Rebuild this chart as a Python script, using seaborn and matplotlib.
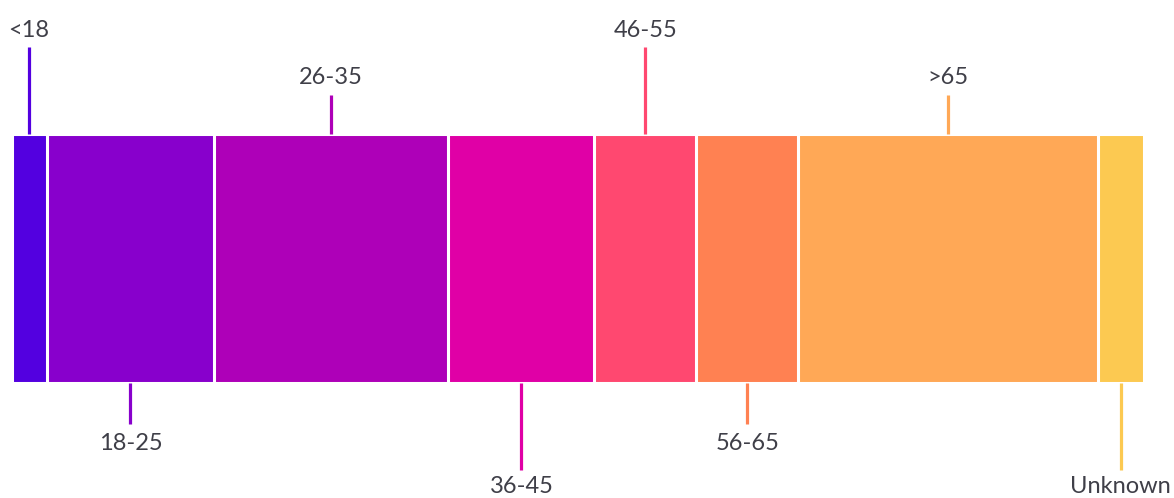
import matplotlib
matplotlib.use("Agg")
import matplotlib.pyplot as plt
import seaborn as sns
import pandas as pd
import numpy as np

# ---- data ----
categories = ["<18", "18-25", "26-35", "36-45", "46-55", "56-65", ">65", "Unknown"]
shares = [3.1, 14.8, 20.7, 12.9, 9.0, 9.0, 26.5, 4.0]
colors = ["#5300E0", "#8800CC", "#AE00B8", "#E000A6",
          "#FF4870", "#FF8152", "#FFA856", "#FCC951"]

sns.set_theme(style="white")
plt.rcParams["font.family"] = ["Lato", "DejaVu Sans"]

W, H = 1174, 498
fig = plt.figure(figsize=(W / 100, H / 100), dpi=100)
left_px, right_px = 11.5, 1143.5
ax = fig.add_axes([left_px / W, 0, (right_px - left_px) / W, 1])

cum = np.cumsum(shares)
df = pd.DataFrame({"group": ["Age"] * len(categories),
                   "category": categories,
                   "cum": cum})

palette = dict(zip(categories, colors))
sns.barplot(data=df, x="cum", y="group", hue="category",
            hue_order=categories[::-1], palette=palette, dodge=False,
            width=1.0, edgecolor="white", linewidth=2.2, legend=False,
            saturation=1, ax=ax)

bar_top, bar_bot = 134.0, 383.0
scale = bar_bot - bar_top


def py(p):
    return -0.5 + (p - bar_top) / scale


ax.set_xlim(0, cum[-1])
ax.set_ylim(py(H), py(0))
ax.axis("off")

text_color = "#3f3f48"
for i, (cat, c) in enumerate(zip(categories, colors)):
    xc = cum[i] - shares[i] / 2
    top = (i % 2 == 0)
    far = (i % 4 in (0, 3))
    if top:
        y0, y1 = bar_top, (47 if far else 95)
        base = 37 if far else 84
    else:
        y0, y1 = bar_bot, (470 if far else 424)
        base = 493 if far else 450
    ax.plot([xc, xc], [py(y0), py(y1)], color=c, lw=2.3,
            solid_capstyle="butt", clip_on=False)
    ax.text(xc, py(base), cat, ha="center", va="baseline",
            fontsize=17, color=text_color, clip_on=False)

fig.savefig("out.png", dpi=100)
